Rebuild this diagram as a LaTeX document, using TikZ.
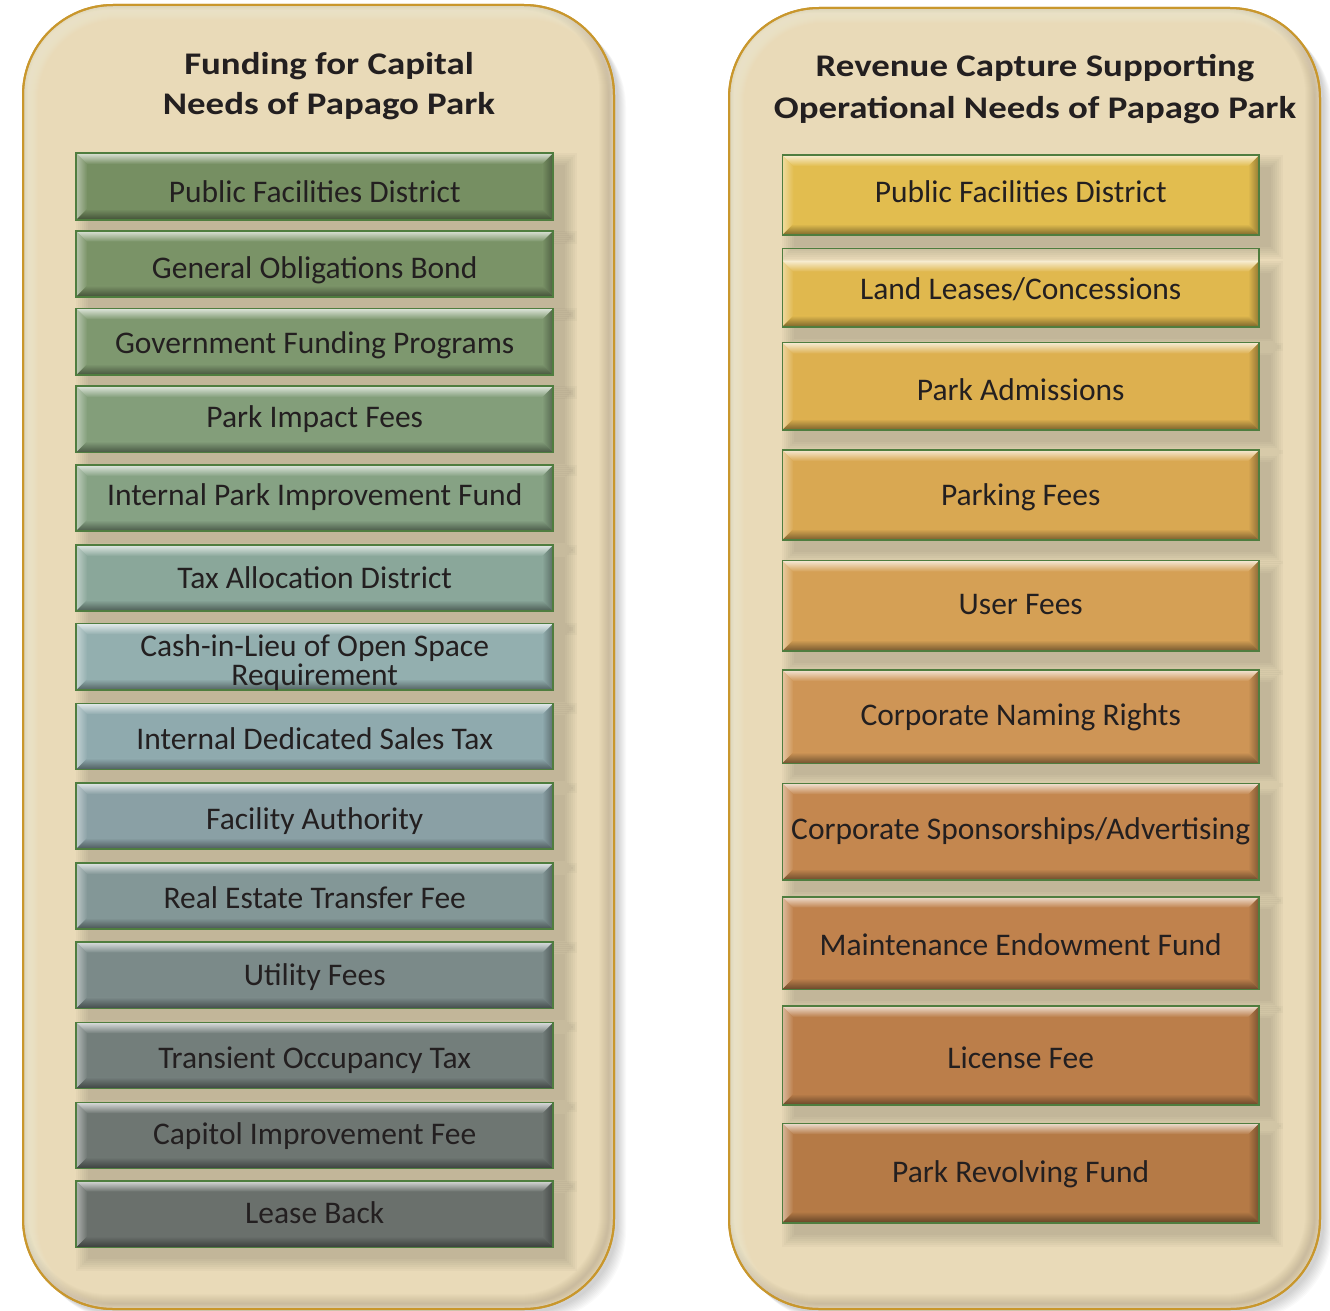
\documentclass[tikz,border=0pt]{standalone}
\usepackage{fontspec}
\setmainfont{Carlito}
\newfontfamily\titlefont[FakeStretch=1.17]{Carlito}
\definecolor{panelfill}{HTML}{E9DAB8}
\definecolor{panelline}{HTML}{C9972C}
\definecolor{boxline}{HTML}{4F7D3F}
\definecolor{txt}{HTML}{231F20}
\colorlet{bxc}{gray}
\tikzset{
  panelst/.style={fill=panelfill, draw=panelline, line width=2pt, rounded corners=90pt},
  titlest/.style={text=txt, font=\titlefont\bfseries\fontsize{31.5}{40.7}\selectfont, inner sep=0pt, anchor=base},
  fundbox/.style={draw=boxline, line width=1.6pt, fill=bxc, inner sep=0pt, outer sep=0pt,
    text=txt, font=\fontsize{31.5}{25}\selectfont,
    path picture={
      \coordinate (pnw) at (path picture bounding box.north west);
      \coordinate (pne) at (path picture bounding box.north east);
      \coordinate (psw) at (path picture bounding box.south west);
      \coordinate (pse) at (path picture bounding box.south east);
      \shade[left color=bxc!55!white, right color=bxc] (pnw) -- ([xshift=11pt,yshift=-11pt]pnw) -- ([xshift=11pt,yshift=11pt]psw) -- (psw) -- cycle;
      \shade[left color=bxc, right color=bxc!65!black] (pne) -- ([xshift=-11pt,yshift=-11pt]pne) -- ([xshift=-11pt,yshift=11pt]pse) -- (pse) -- cycle;
      \shade[top color=bxc!25!white, bottom color=bxc] (pnw) -- (pne) -- ([xshift=-11pt,yshift=-11pt]pne) -- ([xshift=11pt,yshift=-11pt]pnw) -- cycle;
      \shade[top color=bxc, bottom color=bxc!55!black] (psw) -- (pse) -- ([xshift=-11pt,yshift=11pt]pse) -- ([xshift=11pt,yshift=11pt]psw) -- cycle;
    }},
  bshadow/.style={fill=black, opacity=0.022}
}
% name, cx, cy, w, h, colour (HTML), baseline offset below centre, text, extra options
\newcommand\mybox[9]{%
  \definecolor{bxc}{HTML}{#6}%
  \foreach \k in {0,2,...,12}{%
    \fill[bshadow] ({#2-#4/2+12-\k},{#3-#5/2+12-\k}) rectangle ({#2+#4/2+12+\k},{#3+#5/2+12+\k});
  }
  \node[fundbox, minimum width=#4, minimum height=#5, text height=2*#7, text depth=0pt, #9] (#1) at (#2,#3) {#8};
}
\newcommand\mypanel[4]{%
  \foreach \k in {1,...,9}{%
    \fill[black, opacity=0.018, rounded corners=90pt] ({#1+3+\k},{#2+3+\k}) rectangle ({#3+3+\k},{#4+3+\k});
  }
  \path[panelst] (#1,#2) rectangle (#3,#4);
  \begin{scope}
    \clip[rounded corners=90pt] (#1,#2) rectangle (#3,#4);
    \foreach \k in {2,4,...,20}{%
      \draw[black, opacity=0.012, line width=\k pt, rounded corners=90pt] ({#1-5},{#2-5}) rectangle ({#3-5},{#4-5});
      \draw[white, opacity=0.03, line width=\k pt, rounded corners=90pt] ({#1+5},{#2+5}) rectangle ({#3+5},{#4+5});
    }
  \end{scope}
  \draw[panelline, line width=2pt, rounded corners=90pt] (#1,#2) rectangle (#3,#4);
}
\begin{document}
\begin{tikzpicture}[x=1pt,y=-1pt]
\useasboundingbox (0,0) rectangle (1330,1311);
\fill[white] (0,0) rectangle (1330,1311);

\mypanel{23}{5}{614}{1309}
\mypanel{729}{8}{1320}{1309}

\node[titlest] (tl) at (329,74.3) {\begin{tabular}[t]{@{}c@{}}Funding for Capital\\Needs of Papago Park\end{tabular}};
\node[titlest, font=\titlefont\bfseries\fontsize{31.5}{41.6}\selectfont] (tr) at (1035,76.7) {\begin{tabular}[t]{@{}c@{}}Revenue Capture Supporting\\Operational Needs of Papago Park\end{tabular}};

% left column
\mybox{l1}{314.7}{186.5}{477}{67}{768F62}{16.2}{Public Facilities District}{}
\mybox{l2}{314.7}{263.7}{477}{66}{7A9367}{14.6}{General Obligations Bond}{}
\mybox{l3}{314.7}{341.7}{477}{66.7}{7E986F}{11.6}{Government Funding Programs}{}
\mybox{l4}{314.7}{419.2}{477}{66.3}{839E7A}{8.1}{Park Impact Fees}{}
\mybox{l5}{314.7}{498}{477}{66}{86A284}{7}{Internal Park Improvement Fund}{}
\mybox{l6}{314.7}{578}{477}{66}{8AA79A}{10.3}{Tax Allocation District}{}
\mybox{l7}{314.7}{656.7}{477}{66.7}{93AFAF}{6}{\begin{tabular}[t]{@{}c@{}}Cash-in-Lieu of Open Space\\Requirement\end{tabular}}{text depth=12.5pt, text height=12.5pt}
\mybox{l8}{314.7}{736.3}{477}{66}{8FAAAE}{13}{Internal Dedicated Sales Tax}{}
\mybox{l9}{314.7}{816}{477}{66}{8AA0A5}{13.5}{Facility Authority}{}
\mybox{l10}{314.7}{896}{477}{66}{839797}{12.7}{Real Estate Transfer Fee}{}
\mybox{l11}{314.7}{975}{477}{66.6}{7B8A89}{10}{Utility Fees}{}
\mybox{l12}{314.7}{1055.3}{477}{66}{737E7B}{13}{Transient Occupancy Tax}{}
\mybox{l13}{314.7}{1135.3}{477}{66}{6E7672}{8.7}{Capitol Improvement Fee}{}
\mybox{l14}{314.7}{1214}{477}{66.6}{6A706C}{9.3}{Lease Back}{}

% right column
\mybox{r1}{1020.7}{195}{476.7}{80}{E2BD4F}{7.3}{Public Facilities District}{}
\mybox{r2}{1020.7}{293.7}{476.7}{66}{E0B84E}{5.6}{Land Leases/Concessions}{draw=none}
\draw[boxline, line width=1.6pt] (r2.south west) rectangle ([yshift=12.4pt]r2.north east);
\mybox{r3}{1020.7}{386.3}{476.7}{87.3}{DDB04F}{14.4}{Park Admissions}{}
\mybox{r4}{1020.7}{495}{476.7}{90}{D9A852}{10}{Parking Fees}{}
\mybox{r5}{1020.7}{605.8}{476.7}{90.3}{D5A055}{8.5}{User Fees}{}
\mybox{r6}{1020.7}{716.7}{476.7}{93.3}{CE9556}{9}{Corporate Naming Rights}{}
\mybox{r7}{1020.7}{831.7}{476.7}{96.7}{C4874F}{7.6}{Corporate Sponsorships/Advertising}{}
\mybox{r8}{1020.7}{943}{476.7}{92.6}{C0824D}{12}{Maintenance Endowment Fund}{}
\mybox{r9}{1020.7}{1055.5}{476.7}{99}{BB7E4A}{12.8}{License Fee}{}
\mybox{r10}{1020.7}{1173}{476.7}{99.4}{B57A46}{9.7}{Park Revolving Fund}{}
\end{tikzpicture}
\end{document}
